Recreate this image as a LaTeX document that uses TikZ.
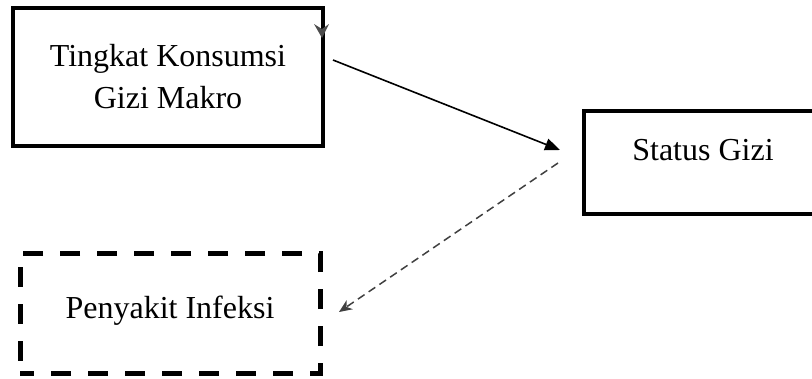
\documentclass[tikz,border=0pt]{standalone}
\usepackage{fontspec}
\setmainfont{Liberation Serif}
\usetikzlibrary{arrows.meta,calc}
\begin{document}
\begin{tikzpicture}[x=1pt,y=-1pt,
  basetxt/.style={font=\fontsize{32}{42}\selectfont, align=center, inner sep=0pt},
  boxtxt/.style={basetxt, text height=22pt, text depth=7pt},
  solidbox/.style={draw=black, line width=4.5pt},
  dashbox/.style={draw=black, line width=5pt, dash pattern=on 20pt off 17pt, dash phase=6pt},
  mainarrow/.style={line width=1.6pt, -{Triangle[length=15pt,width=12pt]}},
  dasharrow/.style={line width=1.5pt, draw=black!75, dash pattern=on 8pt off 5pt, -{Stealth[length=13pt,width=11pt,inset=4pt]}}
]
\useasboundingbox (0,0) rectangle (812,378);
\node[solidbox, basetxt, minimum width=310pt, minimum height=138pt] (kon) at (168,77) {Tingkat Konsumsi\\Gizi Makro};
\node[solidbox, boxtxt, minimum width=238pt, minimum height=103pt, text depth=27pt] (sg) at (703,162.5) {Status Gizi};
\node[dashbox, boxtxt, minimum width=300pt, minimum height=120pt, text depth=11pt] (pi) at (170,313) {Penyakit Infeksi};
\coordinate (a1s) at (333,60);
\coordinate (a1e) at (560,150);
\coordinate (a2s) at (558,163);
\coordinate (a2e) at (339,312);
\draw[mainarrow] (a1s) -- (a1e);
\draw[dasharrow] (a2s) -- (a2e);
\fill[black!70] (314,24) -- (322,38) -- (329,24) -- (322,29) -- cycle;
\end{tikzpicture}
\end{document}
